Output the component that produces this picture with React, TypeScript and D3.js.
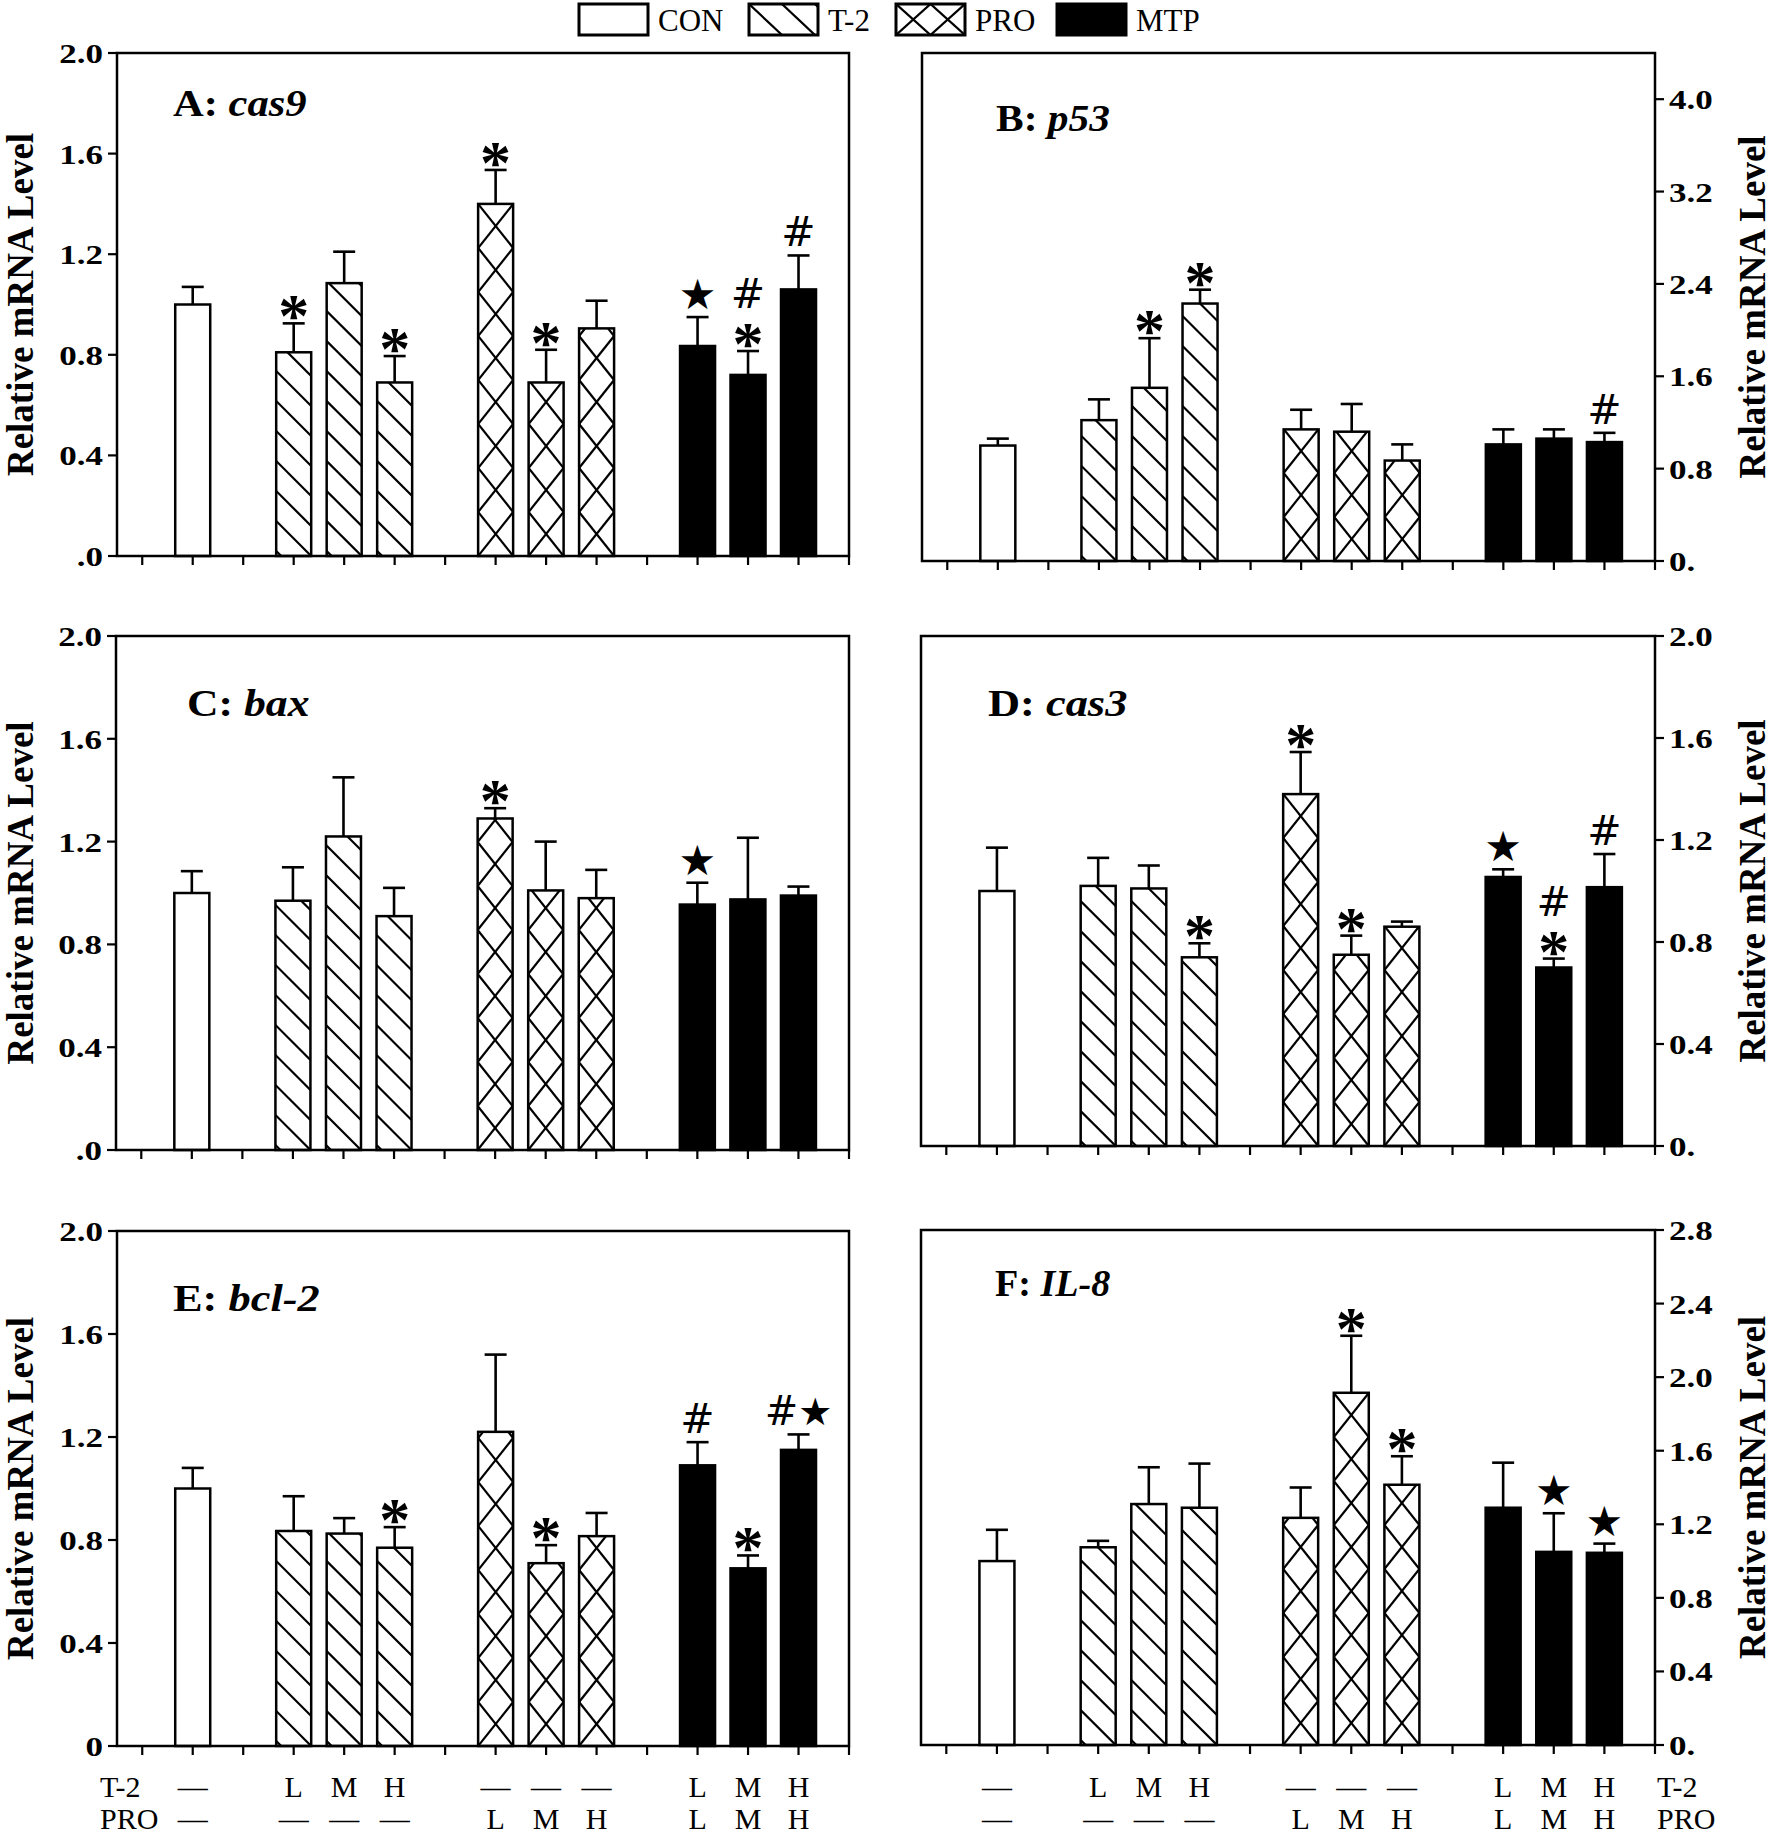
import React from "react";
import * as d3 from "d3";

const W = 1773;
const H = 1837;
const serif = "'Liberation Serif', 'Times New Roman', serif";
const sans = "'DejaVu Sans', sans-serif";

// x positions of the ten bars on the 1..15 tick grid
const positions = [2, 4, 5, 6, 8, 9, 10, 12, 13, 14];
const groups = ["CON", "T2", "T2", "T2", "PRO", "PRO", "PRO", "MTP", "MTP", "MTP"];
const t2Row = ["—", "L", "M", "H", "—", "—", "—", "L", "M", "H"];
const proRow = ["—", "—", "—", "—", "L", "M", "H", "L", "M", "H"];
const legendNames = ["CON", "T-2", "PRO", "MTP"];
const legendGroups = ["CON", "T2", "PRO", "MTP"];

// A: cas9
const cas9Mean = [1.0, 0.81, 1.085, 0.69, 1.4, 0.69, 0.905, 0.835, 0.72, 1.06];
const cas9Err = [0.07, 0.115, 0.125, 0.105, 0.135, 0.13, 0.11, 0.115, 0.095, 0.135];
const cas9Sig = [[], ["*"], [], ["*"], ["*"], ["*"], [], ["★"], ["*", "#"], ["#"]];

// B: p53
const p53Mean = [1.0, 1.22, 1.5, 2.23, 1.14, 1.12, 0.87, 1.01, 1.06, 1.03];
const p53Err = [0.06, 0.18, 0.43, 0.12, 0.17, 0.24, 0.14, 0.13, 0.08, 0.08];
const p53Sig = [[], [], ["*"], ["*"], [], [], [], [], [], ["#"]];

// C: bax
const baxMean = [1.0, 0.97, 1.22, 0.91, 1.29, 1.01, 0.98, 0.955, 0.975, 0.99];
const baxErr = [0.085, 0.13, 0.23, 0.11, 0.04, 0.19, 0.11, 0.085, 0.24, 0.035];
const baxSig = [[], [], [], [], ["*"], [], [], ["★"], [], []];

// D: cas3
const cas3Mean = [1.0, 1.02, 1.01, 0.74, 1.38, 0.75, 0.86, 1.055, 0.7, 1.015];
const cas3Err = [0.17, 0.11, 0.09, 0.055, 0.165, 0.075, 0.02, 0.03, 0.035, 0.13];
const cas3Sig = [[], [], [], ["*"], ["*"], ["*"], [], ["★"], ["*", "#"], ["#"]];

// E: bcl-2
const bcl2Mean = [1.0, 0.835, 0.825, 0.77, 1.22, 0.71, 0.815, 1.09, 0.69, 1.15];
const bcl2Err = [0.08, 0.135, 0.06, 0.08, 0.3, 0.07, 0.09, 0.09, 0.05, 0.06];
const bcl2Sig = [[], [], [], ["*"], [], ["*"], [], ["#"], ["*"], ["#★"]];

// F: IL-8
const il8Mean = [1.0, 1.075, 1.31, 1.29, 1.235, 1.915, 1.415, 1.29, 1.05, 1.045];
const il8Err = [0.17, 0.035, 0.2, 0.24, 0.165, 0.31, 0.155, 0.245, 0.21, 0.05];
const il8Sig = [[], [], [], [], [], ["*"], ["*"], [], ["★"], ["★"]];

const ticks2 = [0, 0.4, 0.8, 1.2, 1.6, 2.0];
const ticks4 = [0, 0.8, 1.6, 2.4, 3.2, 4.0];
const ticks28 = [0, 0.4, 0.8, 1.2, 1.6, 2.0, 2.4, 2.8];

const panels = [
  { id: "A", gene: "cas9", mean: cas9Mean, err: cas9Err, sig: cas9Sig, max: 2.0, ticks: ticks2, zero: ".0",
    side: "left", box: [117, 53, 849, 556], title: [173, 116], tsx: 1.15 },
  { id: "B", gene: "p53", mean: p53Mean, err: p53Err, sig: p53Sig, max: 4.4, ticks: ticks4, zero: "0.",
    side: "right", box: [922, 53, 1655, 561], title: [996, 131], tsx: 1.12 },
  { id: "C", gene: "bax", mean: baxMean, err: baxErr, sig: baxSig, max: 2.0, ticks: ticks2, zero: ".0",
    side: "left", box: [116, 636, 849, 1150], title: [187, 716], tsx: 1.18 },
  { id: "D", gene: "cas3", mean: cas3Mean, err: cas3Err, sig: cas3Sig, max: 2.0, ticks: ticks2, zero: "0.",
    side: "right", box: [921, 636, 1655, 1146], title: [988, 716], tsx: 1.2 },
  { id: "E", gene: "bcl-2", mean: bcl2Mean, err: bcl2Err, sig: bcl2Sig, max: 2.0, ticks: ticks2, zero: "0",
    side: "left", box: [117, 1231, 849, 1746], title: [173, 1311], tsx: 1.2 },
  { id: "F", gene: "IL-8", mean: il8Mean, err: il8Err, sig: il8Sig, max: 2.8, ticks: ticks28, zero: "0.",
    side: "right", box: [921, 1230, 1655, 1745], title: [995, 1296], tsx: 1.03 },
];

const fills = { CON: "#fff", T2: "#fff", PRO: "#fff", MTP: "#000" };

// family of parallel lines y = ay + slope*(x-ax) + k*step, spanning 0..w
function lineFamily(w, h, slope, step, ax, ay) {
  const out = [];
  for (let k = -60; k <= 60; k++) {
    const c = ay - slope * ax + k * step;
    const ya = c;
    const yb = c + slope * w;
    if (Math.max(ya, yb) < -2 || Math.min(ya, yb) > h + 2) continue;
    out.push([0, ya, w, yb]);
  }
  return out;
}

function barHatch(group, w, h) {
  if (group === "T2") return lineFamily(w, h, 1, 30, w, h);
  if (group === "PRO") {
    const P = 44;
    return [...lineFamily(w, h, P / w, P, 0, h), ...lineFamily(w, h, -P / w, P, 0, h)];
  }
  return [];
}

function legendHatch(group, w, h) {
  if (group === "T2") return lineFamily(w, h, 0.94, 31, 0, 0);
  if (group === "PRO") {
    const s = (2 * h) / w;
    return [...lineFamily(w, h, s, h, w / 4, h / 2), ...lineFamily(w, h, -s, h, w / 4, h / 2)];
  }
  return [];
}

const Hatched = ({ id, x, y, w, h, group, lines, sw = 2.5 }) => (
  <g>
    <clipPath id={id}>
      <rect x={x} y={y} width={w} height={h} />
    </clipPath>
    <rect x={x} y={y} width={w} height={h} fill={fills[group]} />
    <g clipPath={`url(#${id})`} stroke="#000" strokeWidth={2.2}>
      {lines.map((l, i) => (
        <line key={i} x1={x + l[0]} y1={y + l[1]} x2={x + l[2]} y2={y + l[3]} />
      ))}
    </g>
    <rect x={x} y={y} width={w} height={h} fill="none" stroke="#000" strokeWidth={sw} />
  </g>
);

function SigMark({ cx, capY, rows }) {
  let cur = capY;
  const out = [];
  rows.forEach((r, i) => {
    if (r === "*") {
      const bottom = cur - 8;
      out.push(
        <text key={i} x={cx} y={bottom + 21} textAnchor="middle" fontFamily={serif} fontWeight="bold" fontSize={62}>*</text>
      );
      cur = bottom - 26;
    } else if (r === "#") {
      const bottom = cur - 9;
      out.push(
        <text key={i} x={cx} y={bottom} textAnchor="middle" fontFamily={sans} fontSize={41}>#</text>
      );
      cur = bottom - 31;
    } else if (r === "★") {
      const bottom = cur - 9;
      out.push(
        <text key={i} x={cx} y={bottom + 1} textAnchor="middle" fontFamily={sans} fontSize={42}>★</text>
      );
      cur = bottom - 30;
    } else if (r === "#★") {
      const bottom = cur - 9;
      out.push(
        <text key={i} x={cx} y={bottom} textAnchor="middle">
          <tspan fontFamily={sans} fontSize={40}>#</tspan>
          <tspan fontFamily={sans} fontSize={38}>★</tspan>
        </text>
      );
      cur = bottom - 30;
    }
  });
  return <g>{out}</g>;
}

const Panel = ({ p }) => {
  const [x0, y0, x1, y1] = p.box;
  const x = d3.scaleLinear().domain([0.5, 15]).range([x0, x1]);
  const y = d3.scaleLinear().domain([0, p.max]).range([y1, y0]);
  const bw = 35;
  const left = p.side === "left";
  const axX = left ? x0 : x1;
  const dir = left ? -1 : 1;
  const fmt = d3.format(".1f");
  const gridTicks = d3.range(1, 16);
  return (
    <g>
      {p.mean.map((m, i) => {
        const cx = x(positions[i]);
        const top = y(m);
        const capY = y(m + p.err[i]);
        return (
          <g key={i}>
            <line x1={cx} x2={cx} y1={top} y2={capY} stroke="#000" strokeWidth={2.6} />
            <line x1={cx - 11} x2={cx + 11} y1={capY} y2={capY} stroke="#000" strokeWidth={2.6} />
            <Hatched
              id={`clip-${p.id}-${i}`}
              x={cx - bw / 2}
              y={top}
              w={bw}
              h={y1 - top}
              group={groups[i]}
              lines={barHatch(groups[i], bw, y1 - top)}
            />
            <SigMark cx={cx} capY={capY} rows={p.sig[i]} />
          </g>
        );
      })}
      <rect x={x0} y={y0} width={x1 - x0} height={y1 - y0} fill="none" stroke="#000" strokeWidth={2.5} />
      {gridTicks.map((t) => (
        <line key={t} x1={x(t)} x2={x(t)} y1={y1} y2={y1 + 9} stroke="#000" strokeWidth={2.2} />
      ))}
      {p.ticks.map((t) => (
        <g key={t}>
          <line x1={axX} x2={axX + dir * 9} y1={y(t)} y2={y(t)} stroke="#000" strokeWidth={2.2} />
          <text
            transform={`translate(${axX + dir * 14},${y(t) + 10}) scale(1.25,1)`}
            textAnchor={left ? "end" : "start"}
            fontFamily={serif}
            fontWeight="bold"
            fontSize={28}
          >
            {t === 0 ? p.zero : fmt(t)}
          </text>
        </g>
      ))}
      <text
        transform={`translate(${left ? 33 : 1765},${(y0 + y1) / 2}) rotate(-90)`}
        textAnchor="middle"
        fontFamily={serif}
        fontWeight="bold"
        fontSize={37}
      >
        Relative mRNA Level
      </text>
      <text
        transform={`translate(${p.title[0]},${p.title[1]}) scale(${p.tsx},1)`}
        fontFamily={serif}
        fontWeight="bold"
        fontSize={37}
      >
        {p.id}:{" "}
        <tspan fontStyle="italic">{p.gene}</tspan>
      </text>
    </g>
  );
};

const BottomRows = ({ p }) => {
  const [x0, , x1] = p.box;
  const x = d3.scaleLinear().domain([0.5, 15]).range([x0, x1]);
  const left = p.side === "left";
  const lx = left ? 100 : 1657;
  const r1 = 1797;
  const r2 = 1829;
  return (
    <g fontFamily={serif} fontSize={30}>
      {t2Row.map((s, i) => (
        <text key={"a" + i} x={x(positions[i])} y={r1} textAnchor="middle">{s}</text>
      ))}
      {proRow.map((s, i) => (
        <text key={"b" + i} x={x(positions[i])} y={r2} textAnchor="middle">{s}</text>
      ))}
      <text x={lx} y={r1}>T-2</text>
      <text x={lx} y={r2}>PRO</text>
    </g>
  );
};

const Legend = () => {
  const starts = [579, 749, 896, 1057];
  const bwid = 69;
  const bh = 31;
  return (
    <g>
      {legendNames.map((n, i) => (
        <g key={n}>
          <Hatched
            id={`leg-${i}`}
            x={starts[i]}
            y={4}
            w={bwid}
            h={bh}
            group={legendGroups[i]}
            lines={legendHatch(legendGroups[i], bwid, bh)}
            sw={3}
          />
          <text x={starts[i] + bwid + 10} y={31} fontFamily={serif} fontSize={31}>
            {n}
          </text>
        </g>
      ))}
    </g>
  );
};

export default function App() {
  return (
    <div>
      <style>{`html,body{margin:0;padding:0;overflow:hidden;background:#fff}`}</style>
      <svg
        width={W}
        height={H}
        viewBox={`0 0 ${W} ${H}`}
        style={{ position: "absolute", left: 0, top: 0, display: "block", background: "#fff" }}
      >
        <rect width={W} height={H} fill="#fff" />
        <Legend />
        {panels.map((p) => (
          <Panel key={p.id} p={p} />
        ))}
        <BottomRows p={panels[4]} />
        <BottomRows p={panels[5]} />
      </svg>
    </div>
  );
}
